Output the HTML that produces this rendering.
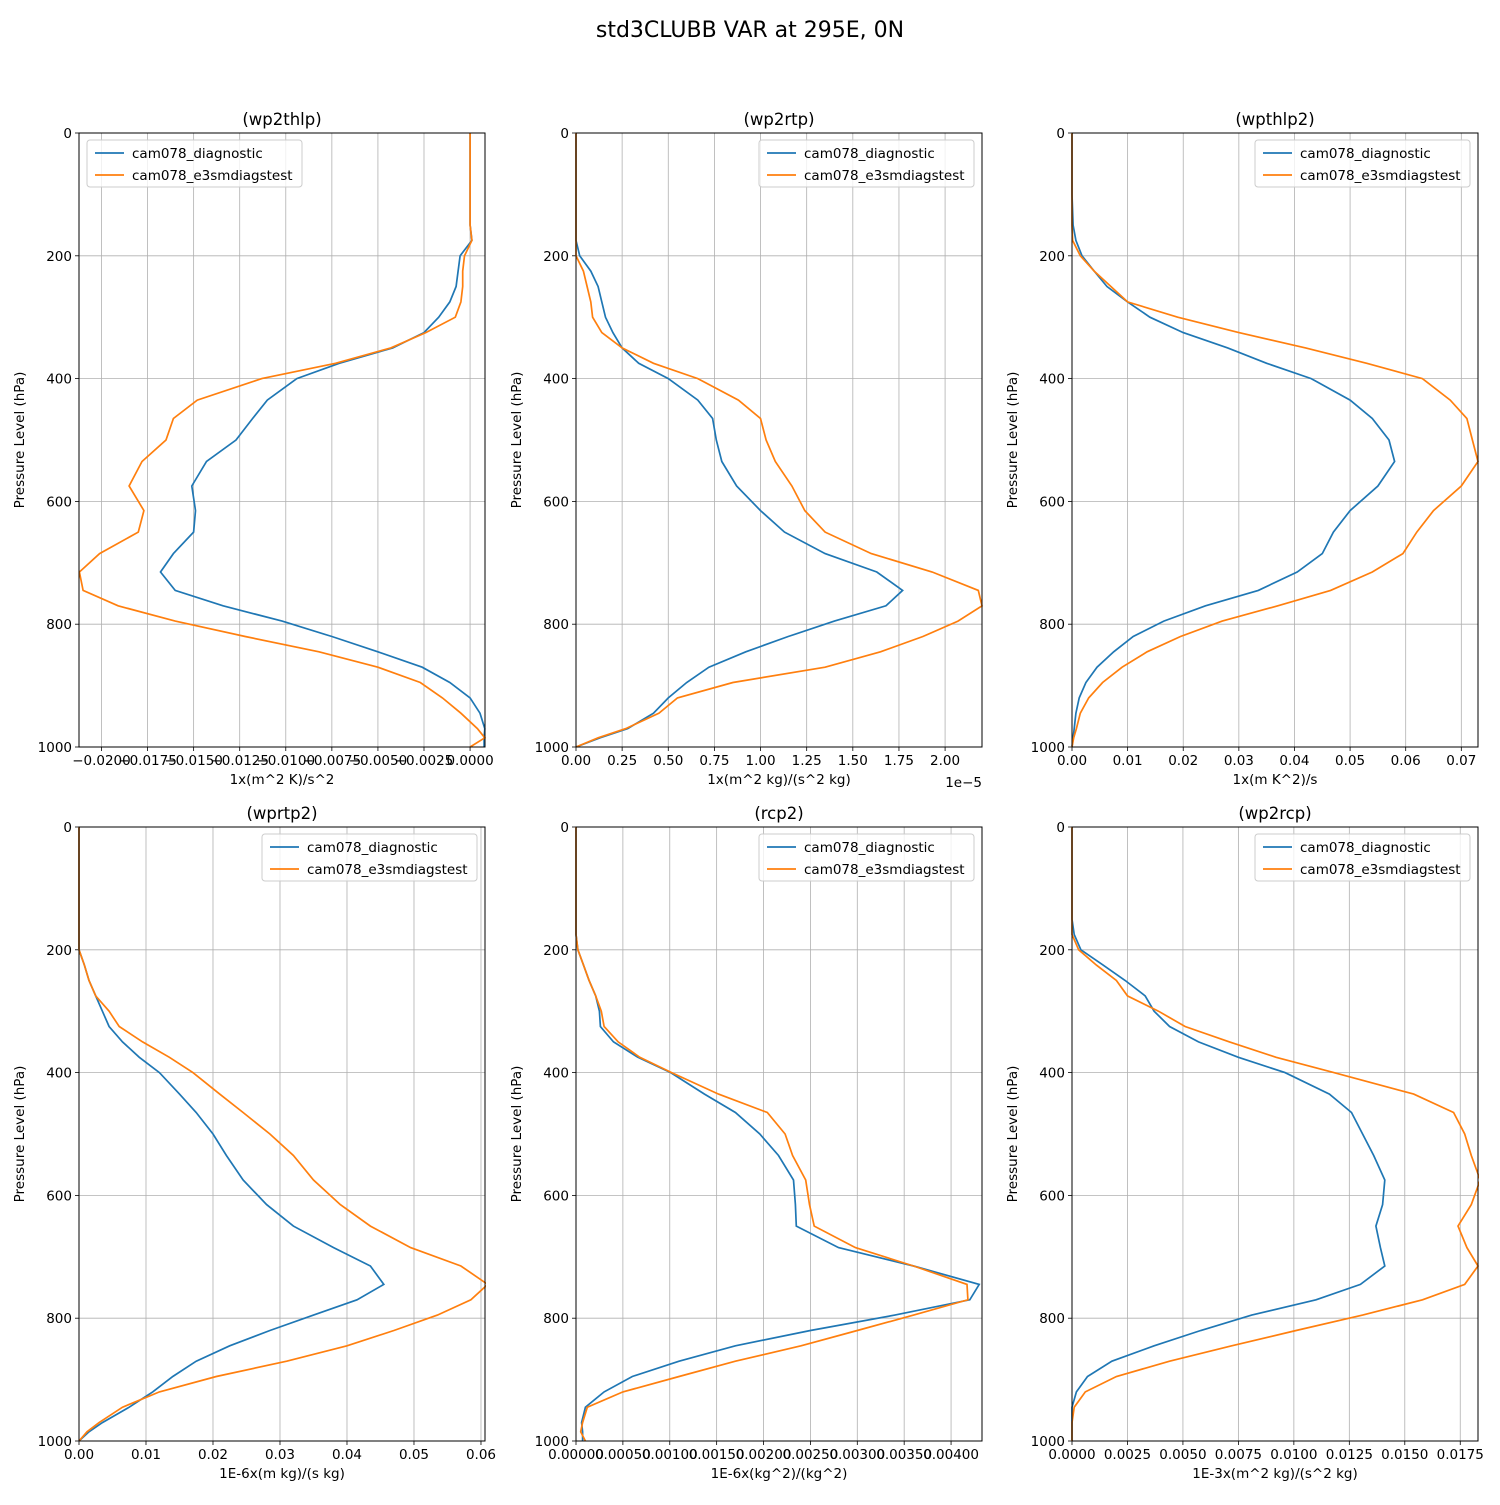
<!DOCTYPE html>
<html><head><meta charset="utf-8"><style>
body{margin:0;background:#fff;font-family:"Liberation Sans","DejaVu Sans",sans-serif;}
svg text{font-family:"DejaVu Sans","Liberation Sans",sans-serif;}
</style></head><body>
<svg id="fig" width="1500" height="1500" xmlns="http://www.w3.org/2000/svg">
<rect width="1500" height="1500" fill="#fff"/>
<text x="750" y="37" font-size="22" text-anchor="middle">std3CLUBB VAR at 295E, 0N</text>
</svg>
<script>
const levels=[0,100,150,175,200,225,250,275,300,325,350,375,400,435,465,500,535,575,615,650,685,715,745,770,795,820,845,870,895,920,945,970,985,1000];
const seriesNames=["cam078_diagnostic","cam078_e3smdiagstest"];
const yTicks=[0,200,400,600,800,1000];
const p1Blue=[0,0,0,0.0001,-0.00054,-0.00065,-0.00076,-0.0011,-0.0017,-0.0025,-0.0042,-0.0071,-0.0094,-0.011,-0.0118,-0.0127,-0.0143,-0.0151,-0.0149,-0.015,-0.0161,-0.0168,-0.016,-0.0134,-0.0102,-0.0075,-0.005,-0.0026,-0.0011,0,0.00054,0.0008,0.00076,0.00076];
const p1Orange=[0,0,0,0.0001,-0.0003,-0.0004,-0.0004,-0.0005,-0.0008,-0.0024,-0.0043,-0.0073,-0.0113,-0.0148,-0.0161,-0.0165,-0.0178,-0.0185,-0.0177,-0.018,-0.0201,-0.0212,-0.021,-0.0191,-0.016,-0.0122,-0.0082,-0.005,-0.0027,-0.0015,-0.0005,0.0004,0.0008,0];
const p1Ticks=[-0.02,-0.0175,-0.015,-0.0125,-0.01,-0.0075,-0.005,-0.0025,0];
const p2Blue=[0,0,0,0,0.02,0.08,0.12,0.14,0.16,0.2,0.25,0.34,0.5,0.66,0.74,0.76,0.79,0.87,1.0,1.13,1.35,1.63,1.77,1.68,1.4,1.15,0.92,0.72,0.6,0.5,0.42,0.28,0.13,0];
const p2Orange=[0,0,0,0,0,0.04,0.06,0.08,0.09,0.14,0.25,0.42,0.66,0.88,1.0,1.03,1.08,1.17,1.24,1.35,1.6,1.93,2.18,2.2,2.07,1.88,1.65,1.35,0.85,0.55,0.45,0.27,0.12,0];
const p2Ticks=[0,0.25,0.5,0.75,1.0,1.25,1.5,1.75,2.0];
const p3Blue=[0,0,0.0002,0.0007,0.0018,0.004,0.0063,0.01,0.014,0.02,0.028,0.035,0.043,0.05,0.054,0.057,0.058,0.055,0.05,0.047,0.045,0.0405,0.0335,0.024,0.0165,0.011,0.0075,0.0045,0.0025,0.0013,0.0007,0.0004,0.0002,0];
const p3Orange=[0,0,0,0.0001,0.0015,0.004,0.007,0.01,0.019,0.03,0.042,0.053,0.063,0.068,0.071,0.072,0.073,0.07,0.065,0.062,0.0595,0.054,0.0465,0.037,0.027,0.0195,0.0135,0.009,0.0055,0.003,0.0015,0.0008,0.0003,0];
const p3Ticks=[0,0.01,0.02,0.03,0.04,0.05,0.06,0.07];
const p4Blue=[0,0,0,0,0,0.0008,0.0015,0.0025,0.0035,0.0045,0.0065,0.009,0.012,0.015,0.0175,0.02,0.022,0.0245,0.028,0.032,0.038,0.0435,0.0455,0.0415,0.035,0.0285,0.0225,0.0175,0.014,0.011,0.0075,0.0035,0.0015,0];
const p4Orange=[0,0,0,0,0,0.0008,0.0015,0.0025,0.0045,0.006,0.0095,0.0135,0.017,0.021,0.0245,0.0285,0.032,0.035,0.039,0.0435,0.0495,0.057,0.061,0.0585,0.0535,0.047,0.04,0.031,0.0205,0.012,0.0065,0.003,0.0012,0];
const p4Ticks=[0,0.01,0.02,0.03,0.04,0.05,0.06];
const p5Blue=[0,0,0,0,0.00002,0.00008,0.00014,0.00021,0.00025,0.00026,0.0004,0.00066,0.00101,0.00137,0.0017,0.00196,0.00216,0.00232,0.00234,0.00235,0.0028,0.0036,0.0043,0.0042,0.0034,0.0025,0.0017,0.0011,0.0006,0.0003,0.0001,0.00006,0.00007,0.00007];
const p5Orange=[0,0,0,0,0.00002,0.00008,0.00014,0.00021,0.00027,0.0003,0.00045,0.00068,0.00102,0.00152,0.00204,0.00223,0.00231,0.00245,0.00249,0.00254,0.00298,0.0036,0.00417,0.00418,0.0036,0.003,0.0024,0.0017,0.0011,0.0005,0.00012,0.00007,0.00005,0.0001];
const p5Ticks=[0,0.0005,0.001,0.0015,0.002,0.0025,0.003,0.0035,0.004];
const p6Blue=[0,0,0,0.0001,0.0004,0.0014,0.0024,0.0033,0.0037,0.0044,0.0057,0.0075,0.0096,0.0116,0.0126,0.0131,0.0136,0.0141,0.014,0.0137,0.0139,0.0141,0.013,0.011,0.0081,0.0058,0.0037,0.0018,0.0007,0.0002,0,0,0,0];
const p6Orange=[0,0,0,0,0.0003,0.0011,0.002,0.0025,0.0039,0.0051,0.0071,0.0092,0.0118,0.0154,0.0172,0.0177,0.018,0.0184,0.018,0.0174,0.0178,0.0183,0.0177,0.0158,0.0131,0.0101,0.0072,0.0044,0.002,0.0006,0.0001,0,0,0];
const p6Ticks=[0,0.0025,0.005,0.0075,0.01,0.0125,0.015,0.0175];

const NS="http://www.w3.org/2000/svg";
const svg=document.getElementById('fig');
function mk(tag,attrs,parent){const e=document.createElementNS(NS,tag);for(const k in attrs)e.setAttribute(k,attrs[k]);(parent||svg).appendChild(e);return e;}
const panels=[
 {id:'wp2thlp',x0:79,y0:133,xmin:-0.02122,xmax:0.00081,b:p1Blue,o:p1Orange,t:p1Ticks,dec:4,xl:'1x(m^2 K)/s^2',leg:'left'},
 {id:'wp2rtp',x0:576,y0:133,xmin:0,xmax:2.2,b:p2Blue,o:p2Orange,t:p2Ticks,dec:2,xl:'1x(m^2 kg)/(s^2 kg)',leg:'right',off:'1e\u22125'},
 {id:'wpthlp2',x0:1072,y0:133,xmin:0,xmax:0.073,b:p3Blue,o:p3Orange,t:p3Ticks,dec:2,xl:'1x(m K^2)/s',leg:'right'},
 {id:'wprtp2',x0:79,y0:827,xmin:0,xmax:0.0606,b:p4Blue,o:p4Orange,t:p4Ticks,dec:2,xl:'1E-6x(m kg)/(s kg)',leg:'right'},
 {id:'rcp2',x0:576,y0:827,xmin:0,xmax:0.00433,b:p5Blue,o:p5Orange,t:p5Ticks,dec:5,xl:'1E-6x(kg^2)/(kg^2)',leg:'right'},
 {id:'wp2rcp',x0:1072,y0:827,xmin:0,xmax:0.0183,b:p6Blue,o:p6Orange,t:p6Ticks,dec:4,xl:'1E-3x(m^2 kg)/(s^2 kg)',leg:'right'}
];
const W=406,H=614;
panels.forEach(p=>{
 const g=mk('g',{});
 
 
 const sx=v=>p.x0+(v-p.xmin)/(p.xmax-p.xmin)*W;
 const sy=v=>p.y0+v/1000*H;
 p.t.forEach(t=>{const x=sx(t);mk('line',{x1:x,x2:x,y1:p.y0,y2:p.y0+H,stroke:'#b0b0b0','stroke-width':0.8},g);
   mk('line',{x1:x,x2:x,y1:p.y0+H,y2:p.y0+H+4,stroke:'#000','stroke-width':0.8},g);
   const lab=mk('text',{x:x,y:p.y0+H+18,'font-size':13.5,'text-anchor':'middle'},g);
   
   
   lab.textContent=(t<0?'\u2212':'')+Math.abs(t).toFixed(p.dec);});
 yTicks.forEach(t=>{const y=sy(t);mk('line',{x1:p.x0,x2:p.x0+W,y1:y,y2:y,stroke:'#b0b0b0','stroke-width':0.8},g);
   mk('line',{x1:p.x0-4,x2:p.x0,y1:y,y2:y,stroke:'#000','stroke-width':0.8},g);
   const lab=mk('text',{x:p.x0-7,y:y+5,'font-size':13.5,'text-anchor':'end'},g);
   
   
   lab.textContent=t;});
 const cp=mk('clipPath',{id:'c'+p.id},g);mk('rect',{x:p.x0-1,y:p.y0-1,width:W+2,height:H+2},cp);
 [[p.b,'#1f77b4'],[p.o,'#ff7f0e']].forEach(([arr,c],i)=>{
   const d=arr.map((v,k)=>(k?'L':'M')+sx(v).toFixed(1)+','+sy(levels[k]).toFixed(1)).join('');
   const l=mk('path',{d:d,fill:'none',stroke:c,'stroke-width':1.7,'clip-path':'url(#c'+p.id+')'},g);
   
   
 });
 mk('rect',{x:p.x0,y:p.y0,width:W,height:H,fill:'none',stroke:'#000','stroke-width':1},g);
 const tt=mk('text',{x:p.x0+W/2,y:p.y0-8,'font-size':16.5,'text-anchor':'middle'},g);
 
 
 tt.textContent='('+p.id+')';
 const xl=mk('text',{x:p.x0+W/2,y:p.y0+H+37,'font-size':13.5,'text-anchor':'middle'},g);
 
 
 xl.textContent=p.xl;
 const yl=mk('text',{x:0,y:0,'font-size':13.5,'text-anchor':'middle',transform:'translate('+(p.x0-55)+','+(p.y0+H/2)+') rotate(-90)'},g);
 
 
 yl.textContent='Pressure Level (hPa)';
 if(p.off){const o=mk('text',{x:p.x0+W,y:p.y0+H+40,'font-size':13.5,'text-anchor':'end'},g);
   
   
   o.textContent=p.off;}
 const lx=p.leg==='left'?p.x0+8:p.x0+W-223, ly=p.y0+7;
 const lg=mk('g',{},g);
 
 
 mk('rect',{x:lx,y:ly,width:215,height:47,rx:3,fill:'#fff','fill-opacity':0.8,stroke:'#ccc'},lg);
 ['#1f77b4','#ff7f0e'].forEach((c,i)=>{
   mk('line',{x1:lx+8,x2:lx+37,y1:ly+13+i*22,y2:ly+13+i*22,stroke:c,'stroke-width':1.7},lg);
   const t=mk('text',{x:lx+45,y:ly+18+i*22,'font-size':13.5},lg);
   
   
   t.textContent=seriesNames[i];
 });
});
</script>
</body></html>
